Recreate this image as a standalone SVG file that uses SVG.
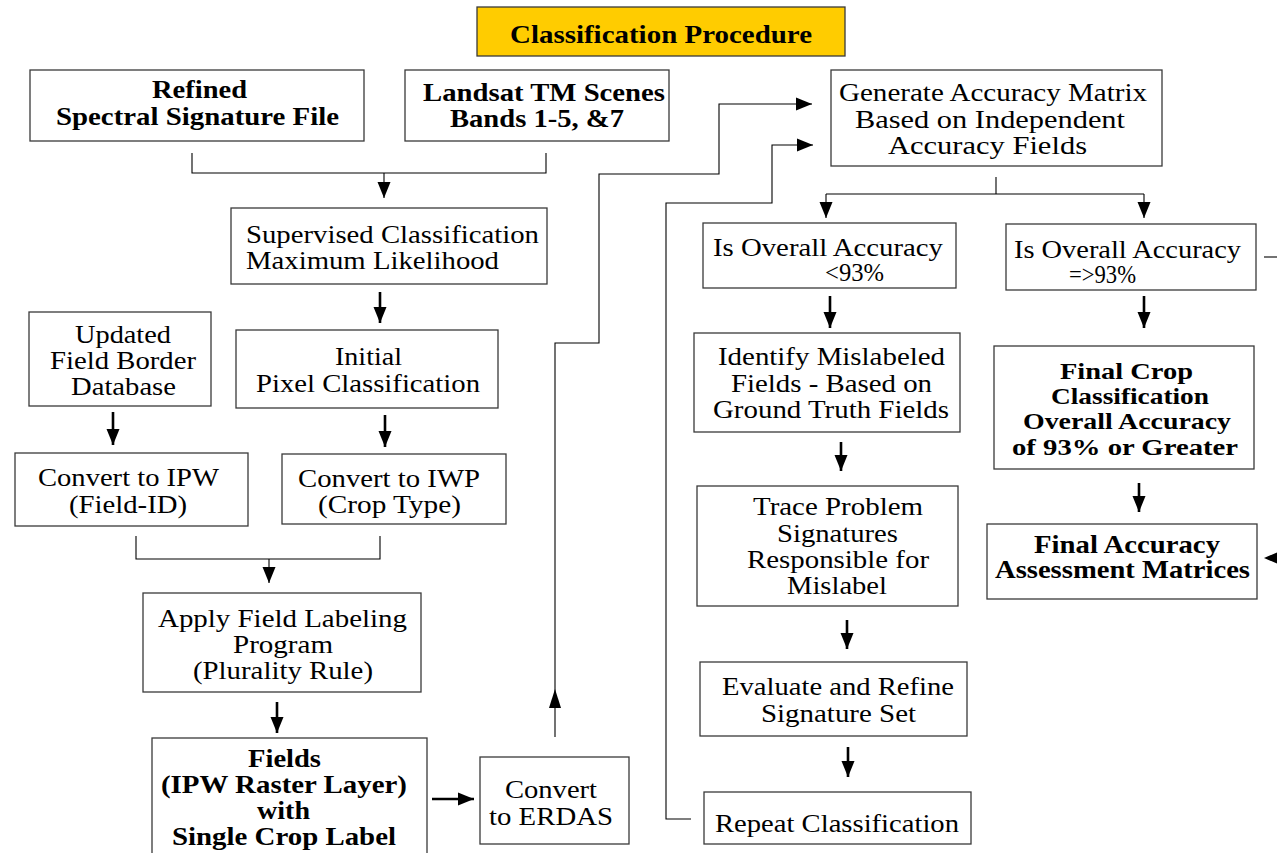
<svg xmlns="http://www.w3.org/2000/svg" width="1277" height="853" viewBox="0 0 1277 853">
<defs>
<style>
.box{fill:#fff;stroke:#3a3a3a;stroke-width:1.3}
.n{font-size:25px;fill:#000}
.b{font-size:25px;font-weight:bold;fill:#000}
.thin{fill:none;stroke:#000;stroke-width:1.1}
.thick{fill:none;stroke:#000;stroke-width:2.6}
</style>
<marker id="ah" markerUnits="userSpaceOnUse" markerWidth="16" markerHeight="14" viewBox="0 0 16 14" refX="16" refY="7" orient="auto">
<path d="M0,0.5 L16,7 L0,13.5 z" fill="#000"/>
</marker>
</defs>
<rect width="1277" height="853" fill="#fff"/>

<g font-family="'Liberation Serif', 'DejaVu Serif', 'Times New Roman', serif">
<g id="title">
<rect x="477" y="7" width="368" height="49" fill="#FFCC00" stroke="#3a3a3a" stroke-width="1.3"/>
<text class="b" x="510" y="43" textLength="302" lengthAdjust="spacingAndGlyphs">Classification Procedure</text>
</g>

<g id="connectors">
<path class="thin" d="M192,153 V173 H546 V153"/>
<path class="thin" d="M384,173 V198" marker-end="url(#ah)"/>
<path class="thick" d="M380,292 V323" marker-end="url(#ah)"/>
<path class="thick" d="M113,412 V445" marker-end="url(#ah)"/>
<path class="thick" d="M385,415 V447" marker-end="url(#ah)"/>
<path class="thin" d="M136,536 V559 H380 V536"/>
<path class="thin" d="M269,559 V583" marker-end="url(#ah)"/>
<path class="thick" d="M277,702 V733" marker-end="url(#ah)"/>
<path class="thick" d="M432,799 H474" marker-end="url(#ah)"/>
<path class="thin" d="M555,737 V343 H599 V174 H719 V104 H812" marker-end="url(#ah)"/>
<polygon points="555,689 549,708 561,708" fill="#000"/>
<path class="thin" d="M691,819 H666 V203 H772 V145 H813" marker-end="url(#ah)"/>
<path class="thin" d="M996,177 V194"/>
<path class="thin" d="M826,194 H1144"/>
<path class="thin" d="M826,194 V218" marker-end="url(#ah)"/>
<path class="thin" d="M1144,194 V218" marker-end="url(#ah)"/>
<path class="thick" d="M830,296 V328" marker-end="url(#ah)"/>
<path class="thick" d="M1144,296 V328" marker-end="url(#ah)"/>
<path class="thick" d="M841,442 V471" marker-end="url(#ah)"/>
<path class="thick" d="M847,620 V649" marker-end="url(#ah)"/>
<path class="thick" d="M848,747 V777" marker-end="url(#ah)"/>
<path class="thick" d="M1139,483 V512" marker-end="url(#ah)"/>
<path class="thin" d="M1264,257 H1277"/>
<polygon points="1264,558 1278,552 1278,564" fill="#000"/>
</g>

<g id="refined">
<rect class="box" x="30" y="70" width="334" height="71"/>
<text class="b" x="152" y="98" textLength="95" lengthAdjust="spacingAndGlyphs">Refined</text>
<text class="b" x="56" y="125" textLength="283" lengthAdjust="spacingAndGlyphs">Spectral Signature File</text>
</g>

<g id="landsat">
<rect class="box" x="405" y="70" width="264" height="71"/>
<text class="b" x="423" y="101" textLength="242" lengthAdjust="spacingAndGlyphs">Landsat TM Scenes</text>
<text class="b" x="450" y="127" textLength="174" lengthAdjust="spacingAndGlyphs">Bands 1-5, &amp;7</text>
</g>

<g id="supervised">
<rect class="box" x="231" y="208" width="316" height="76"/>
<text class="n" x="246" y="243" textLength="293" lengthAdjust="spacingAndGlyphs">Supervised Classification</text>
<text class="n" x="246" y="269" textLength="253" lengthAdjust="spacingAndGlyphs">Maximum Likelihood</text>
</g>

<g id="updated">
<rect class="box" x="29" y="312" width="182" height="94"/>
<text class="n" x="75" y="343" textLength="96" lengthAdjust="spacingAndGlyphs">Updated</text>
<text class="n" x="50" y="369" textLength="146" lengthAdjust="spacingAndGlyphs">Field Border</text>
<text class="n" x="71" y="395" textLength="105" lengthAdjust="spacingAndGlyphs">Database</text>
</g>

<g id="initial">
<rect class="box" x="236" y="330" width="262" height="78"/>
<text class="n" x="335" y="365" textLength="67" lengthAdjust="spacingAndGlyphs">Initial</text>
<text class="n" x="256" y="392" textLength="224" lengthAdjust="spacingAndGlyphs">Pixel Classification</text>
</g>

<g id="convert-ipw">
<rect class="box" x="15" y="453" width="233" height="73"/>
<text class="n" x="38" y="486" textLength="181" lengthAdjust="spacingAndGlyphs">Convert to IPW</text>
<text class="n" x="69" y="513" textLength="118" lengthAdjust="spacingAndGlyphs">(Field-ID)</text>
</g>

<g id="convert-iwp">
<rect class="box" x="282" y="454" width="224" height="70"/>
<text class="n" x="298" y="487" textLength="182" lengthAdjust="spacingAndGlyphs">Convert to IWP</text>
<text class="n" x="318" y="513" textLength="143" lengthAdjust="spacingAndGlyphs">(Crop Type)</text>
</g>

<g id="apply">
<rect class="box" x="143" y="593" width="278" height="99"/>
<text class="n" x="158" y="627" textLength="249" lengthAdjust="spacingAndGlyphs">Apply Field Labeling</text>
<text class="n" x="233" y="653" textLength="100" lengthAdjust="spacingAndGlyphs">Program</text>
<text class="n" x="193" y="679" textLength="180" lengthAdjust="spacingAndGlyphs">(Plurality Rule)</text>
</g>

<g id="fields">
<rect class="box" x="152" y="738" width="275" height="130"/>
<text class="b" x="248" y="767" textLength="73" lengthAdjust="spacingAndGlyphs">Fields</text>
<text class="b" x="161" y="793" textLength="246" lengthAdjust="spacingAndGlyphs">(IPW Raster Layer)</text>
<text class="b" x="257" y="819" textLength="53" lengthAdjust="spacingAndGlyphs">with</text>
<text class="b" x="172" y="845" textLength="224" lengthAdjust="spacingAndGlyphs">Single Crop Label</text>
</g>

<g id="erdas">
<rect class="box" x="480" y="757" width="149" height="87"/>
<text class="n" x="505" y="798" textLength="92" lengthAdjust="spacingAndGlyphs">Convert</text>
<text class="n" x="489" y="825" textLength="124" lengthAdjust="spacingAndGlyphs">to ERDAS</text>
</g>

<g id="generate">
<rect class="box" x="831" y="70" width="331" height="96"/>
<text class="n" x="839" y="101" textLength="308" lengthAdjust="spacingAndGlyphs">Generate Accuracy Matrix</text>
<text class="n" x="855" y="128" textLength="270" lengthAdjust="spacingAndGlyphs">Based on Independent</text>
<text class="n" x="888" y="154" textLength="199" lengthAdjust="spacingAndGlyphs">Accuracy Fields</text>
</g>

<g id="lt93">
<rect class="box" x="703" y="223" width="253" height="65"/>
<text class="n" x="713" y="256" textLength="230" lengthAdjust="spacingAndGlyphs">Is Overall Accuracy</text>
<text class="n" x="825" y="281" textLength="59" lengthAdjust="spacingAndGlyphs">&lt;93%</text>
</g>

<g id="ge93">
<rect class="box" x="1006" y="224" width="250" height="66"/>
<text class="n" x="1014" y="258" textLength="227" lengthAdjust="spacingAndGlyphs">Is Overall Accuracy</text>
<text class="n" x="1069" y="283" textLength="67" lengthAdjust="spacingAndGlyphs">=&gt;93%</text>
</g>

<g id="identify">
<rect class="box" x="694" y="333" width="266" height="99"/>
<text class="n" x="718" y="365" textLength="227" lengthAdjust="spacingAndGlyphs">Identify Mislabeled</text>
<text class="n" x="731" y="392" textLength="201" lengthAdjust="spacingAndGlyphs">Fields - Based on</text>
<text class="n" x="713" y="418" textLength="236" lengthAdjust="spacingAndGlyphs">Ground Truth Fields</text>
</g>

<g id="trace">
<rect class="box" x="697" y="486" width="261" height="120"/>
<text class="n" x="753" y="515" textLength="170" lengthAdjust="spacingAndGlyphs">Trace Problem</text>
<text class="n" x="777" y="542" textLength="121" lengthAdjust="spacingAndGlyphs">Signatures</text>
<text class="n" x="747" y="568" textLength="182" lengthAdjust="spacingAndGlyphs">Responsible for</text>
<text class="n" x="787" y="594" textLength="100" lengthAdjust="spacingAndGlyphs">Mislabel</text>
</g>

<g id="evaluate">
<rect class="box" x="700" y="662" width="267" height="74"/>
<text class="n" x="722" y="695" textLength="232" lengthAdjust="spacingAndGlyphs">Evaluate and Refine</text>
<text class="n" x="761" y="722" textLength="155" lengthAdjust="spacingAndGlyphs">Signature Set</text>
</g>

<g id="repeat">
<rect class="box" x="704" y="792" width="267" height="52"/>
<text class="n" x="715" y="832" textLength="244" lengthAdjust="spacingAndGlyphs">Repeat Classification</text>
</g>

<g id="final-crop">
<rect class="box" x="994" y="346" width="260" height="123"/>
<text class="b" x="1060" y="379" textLength="133" lengthAdjust="spacingAndGlyphs" style="font-size:24px">Final Crop</text>
<text class="b" x="1051" y="404" textLength="158" lengthAdjust="spacingAndGlyphs" style="font-size:24px">Classification</text>
<text class="b" x="1023" y="429" textLength="208" lengthAdjust="spacingAndGlyphs" style="font-size:24px">Overall Accuracy</text>
<text class="b" x="1012" y="455" textLength="226" lengthAdjust="spacingAndGlyphs" style="font-size:24px">of 93% or Greater</text>
</g>

<g id="final-accuracy">
<rect class="box" x="987" y="524" width="270" height="75"/>
<text class="b" x="1034" y="553" textLength="186" lengthAdjust="spacingAndGlyphs">Final Accuracy</text>
<text class="b" x="995" y="578" textLength="255" lengthAdjust="spacingAndGlyphs">Assessment Matrices</text>
</g>
</g>
</svg>
